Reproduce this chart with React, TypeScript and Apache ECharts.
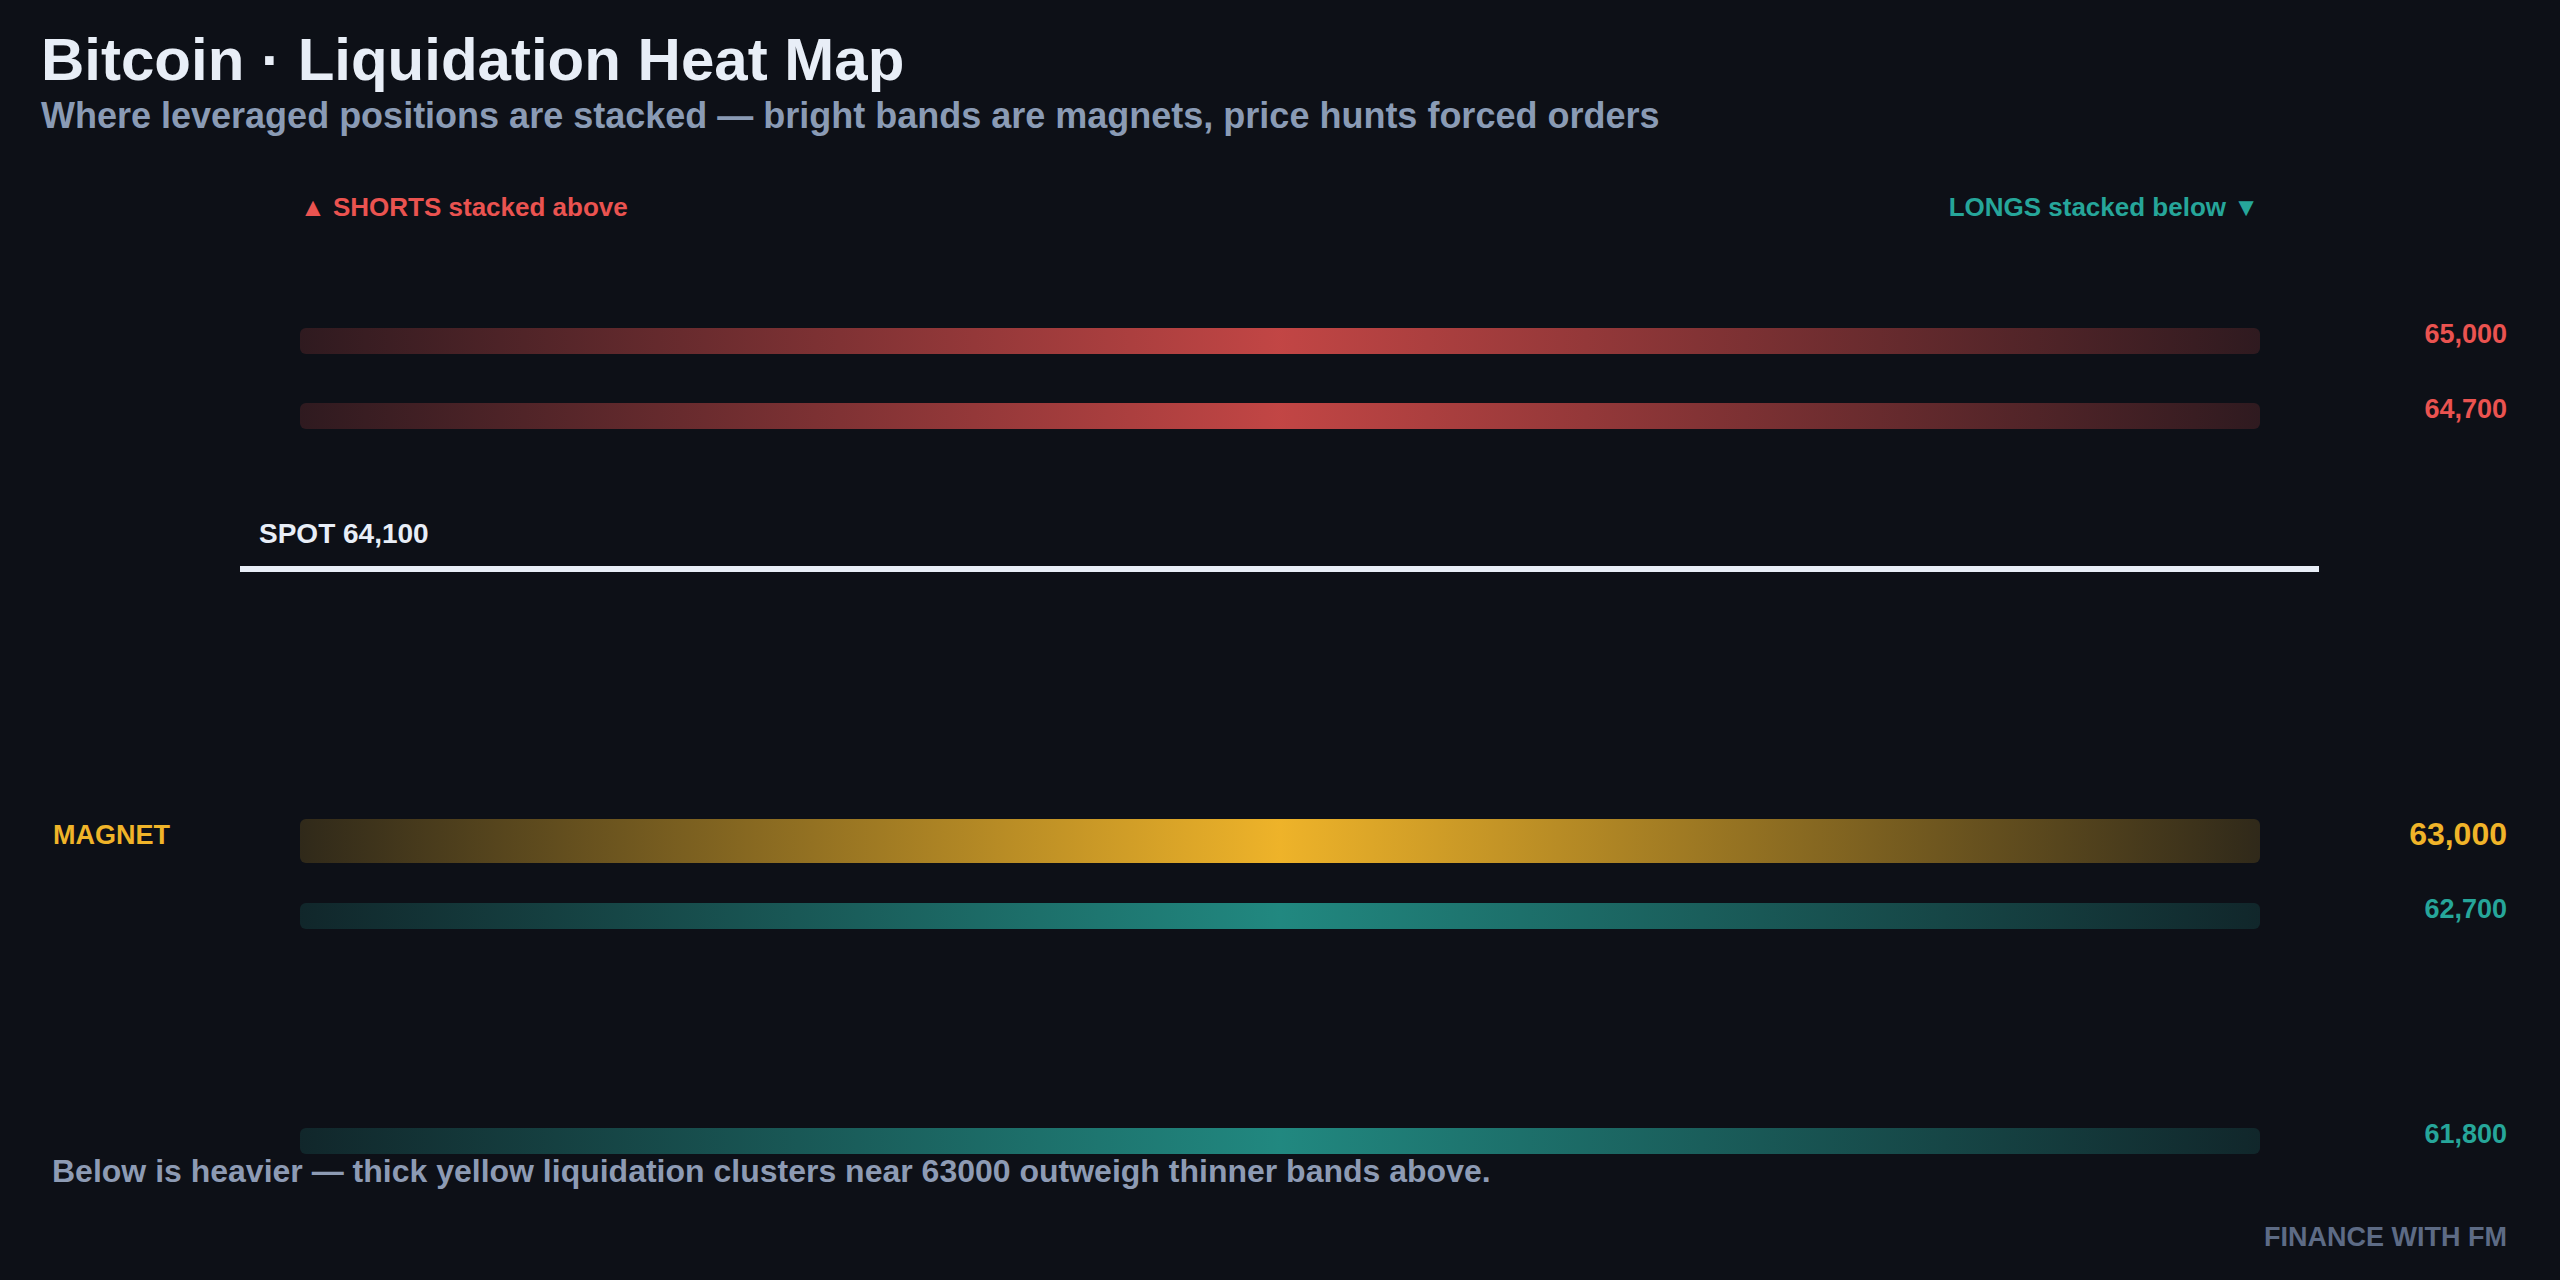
import React, { useEffect, useRef } from "react";
import * as echarts from "echarts";

// liquidation bands, top to bottom
const bandPrices = [65000, 64700, 63000, 62700, 61800];
const bandKinds = ["short", "short", "magnet", "long", "long"];
const spotPrice = 64100;
const priceMin = 61400;
const priceMax = 65800;

const FONT = '"Liberation Sans", Arial, sans-serif';
const BG = "#0d1017";

const kindStyle: Record<string, any> = {
  short: { rgb: "239,83,80", label: "#ea5350", thick: 26, peak: 0.8, size: 27 },
  long: { rgb: "38,166,154", label: "#26a69a", thick: 26, peak: 0.8, size: 27 },
  magnet: { rgb: "245,184,42", label: "#f0b429", thick: 44, peak: 0.97, size: 32 },
};

const fmt = (v: number) => String(v).replace(/\B(?=(\d{3})+(?!\d))/g, ",");

const App: React.FC = () => {
  const chartRef = useRef<HTMLDivElement | null>(null);

  useEffect(() => {
    document.body.style.margin = "0";
    document.body.style.overflow = "hidden";
    if (!chartRef.current) return;
    const chart = echarts.init(chartRef.current, undefined, { renderer: "svg" });

    const options = {
      animation: false,
      backgroundColor: BG,
      grid: { left: 300, right: 300, top: 141, bottom: 39 },
      xAxis: { type: "value", min: 0, max: 1, show: false },
      yAxis: { type: "value", min: priceMin, max: priceMax, show: false },
      graphic: [
        {
          type: "text",
          x: 41,
          y: 59,
          style: {
            text: "Bitcoin · Liquidation Heat Map",
            fill: "#e8eef7",
            font: `bold 60px ${FONT}`,
            align: "left",
            verticalAlign: "middle",
          },
        },
        {
          type: "text",
          x: 41,
          y: 115,
          style: {
            text: "Where leveraged positions are stacked — bright bands are magnets, price hunts forced orders",
            fill: "#8a9bb5",
            font: `bold 36px ${FONT}`,
            align: "left",
            verticalAlign: "middle",
          },
        },
        {
          type: "text",
          x: 300,
          y: 207,
          style: {
            text: "▲ SHORTS stacked above",
            fill: "#ea5350",
            font: `bold 26px ${FONT}`,
            align: "left",
            verticalAlign: "middle",
          },
        },
        {
          type: "text",
          x: 2259,
          y: 207,
          style: {
            text: "LONGS stacked below ▼",
            fill: "#26a69a",
            font: `bold 26px ${FONT}`,
            align: "right",
            verticalAlign: "middle",
          },
        },
        {
          type: "text",
          x: 52,
          y: 1171,
          style: {
            text: "Below is heavier — thick yellow liquidation clusters near 63000 outweigh thinner bands above.",
            fill: "#8d9bb4",
            font: `bold 32px ${FONT}`,
            align: "left",
            verticalAlign: "middle",
          },
        },
        {
          type: "text",
          x: 2507,
          y: 1237,
          style: {
            text: "FINANCE WITH FM",
            fill: "#5d6b85",
            font: `bold 27px ${FONT}`,
            align: "right",
            verticalAlign: "middle",
          },
        },
      ],
      series: [
        {
          type: "custom",
          name: "bands",
          data: bandPrices.map((p) => [1, p]),
          renderItem: (params: any, api: any) => {
            const price = api.value(1);
            const kind = bandKinds[params.dataIndex];
            const st = kindStyle[kind];
            const start = api.coord([0, price]);
            const end = api.coord([1, price]);
            const h = st.thick;
            const fill = new echarts.graphic.LinearGradient(0, 0, 1, 0, [
              { offset: 0, color: `rgba(${st.rgb},0.15)` },
              { offset: 0.5, color: `rgba(${st.rgb},${st.peak})` },
              { offset: 1, color: `rgba(${st.rgb},0.15)` },
            ]);
            const children: any[] = [
              {
                type: "rect",
                shape: { x: start[0], y: start[1] - h / 2, width: end[0] - start[0], height: h, r: 6 },
                style: { fill },
              },
              {
                type: "text",
                style: {
                  text: fmt(price),
                  x: end[0] + 247,
                  y: start[1] - 7,
                  align: "right",
                  verticalAlign: "middle",
                  fill: st.label,
                  font: `bold ${st.size}px ${FONT}`,
                },
              },
            ];
            if (kind === "magnet") {
              children.push({
                type: "text",
                style: {
                  text: "MAGNET",
                  x: start[0] - 247,
                  y: start[1] - 6,
                  align: "left",
                  verticalAlign: "middle",
                  fill: st.label,
                  font: `bold 27px ${FONT}`,
                },
              });
            }
            return { type: "group", children };
          },
        },
        {
          type: "custom",
          name: "spot",
          data: [[1, spotPrice]],
          renderItem: (params: any, api: any) => {
            const price = api.value(1);
            const start = api.coord([0, price]);
            const end = api.coord([1, price]);
            return {
              type: "group",
              children: [
                {
                  type: "line",
                  shape: { x1: start[0] - 60, y1: start[1] + 3, x2: end[0] + 59, y2: start[1] + 3 },
                  style: { stroke: "#e8eef7", lineWidth: 6 },
                },
                {
                  type: "text",
                  style: {
                    text: "SPOT " + fmt(price),
                    x: start[0] - 41,
                    y: start[1] - 33,
                    align: "left",
                    verticalAlign: "middle",
                    fill: "#e8eef7",
                    font: `bold 28px ${FONT}`,
                  },
                },
              ],
            };
          },
        },
      ],
    };

    chart.setOption(options as any);

    return () => {
      chart.dispose();
    };
  }, []);

  return <div ref={chartRef} style={{ width: "2560px", height: "1280px" }} />;
};

export default App;
